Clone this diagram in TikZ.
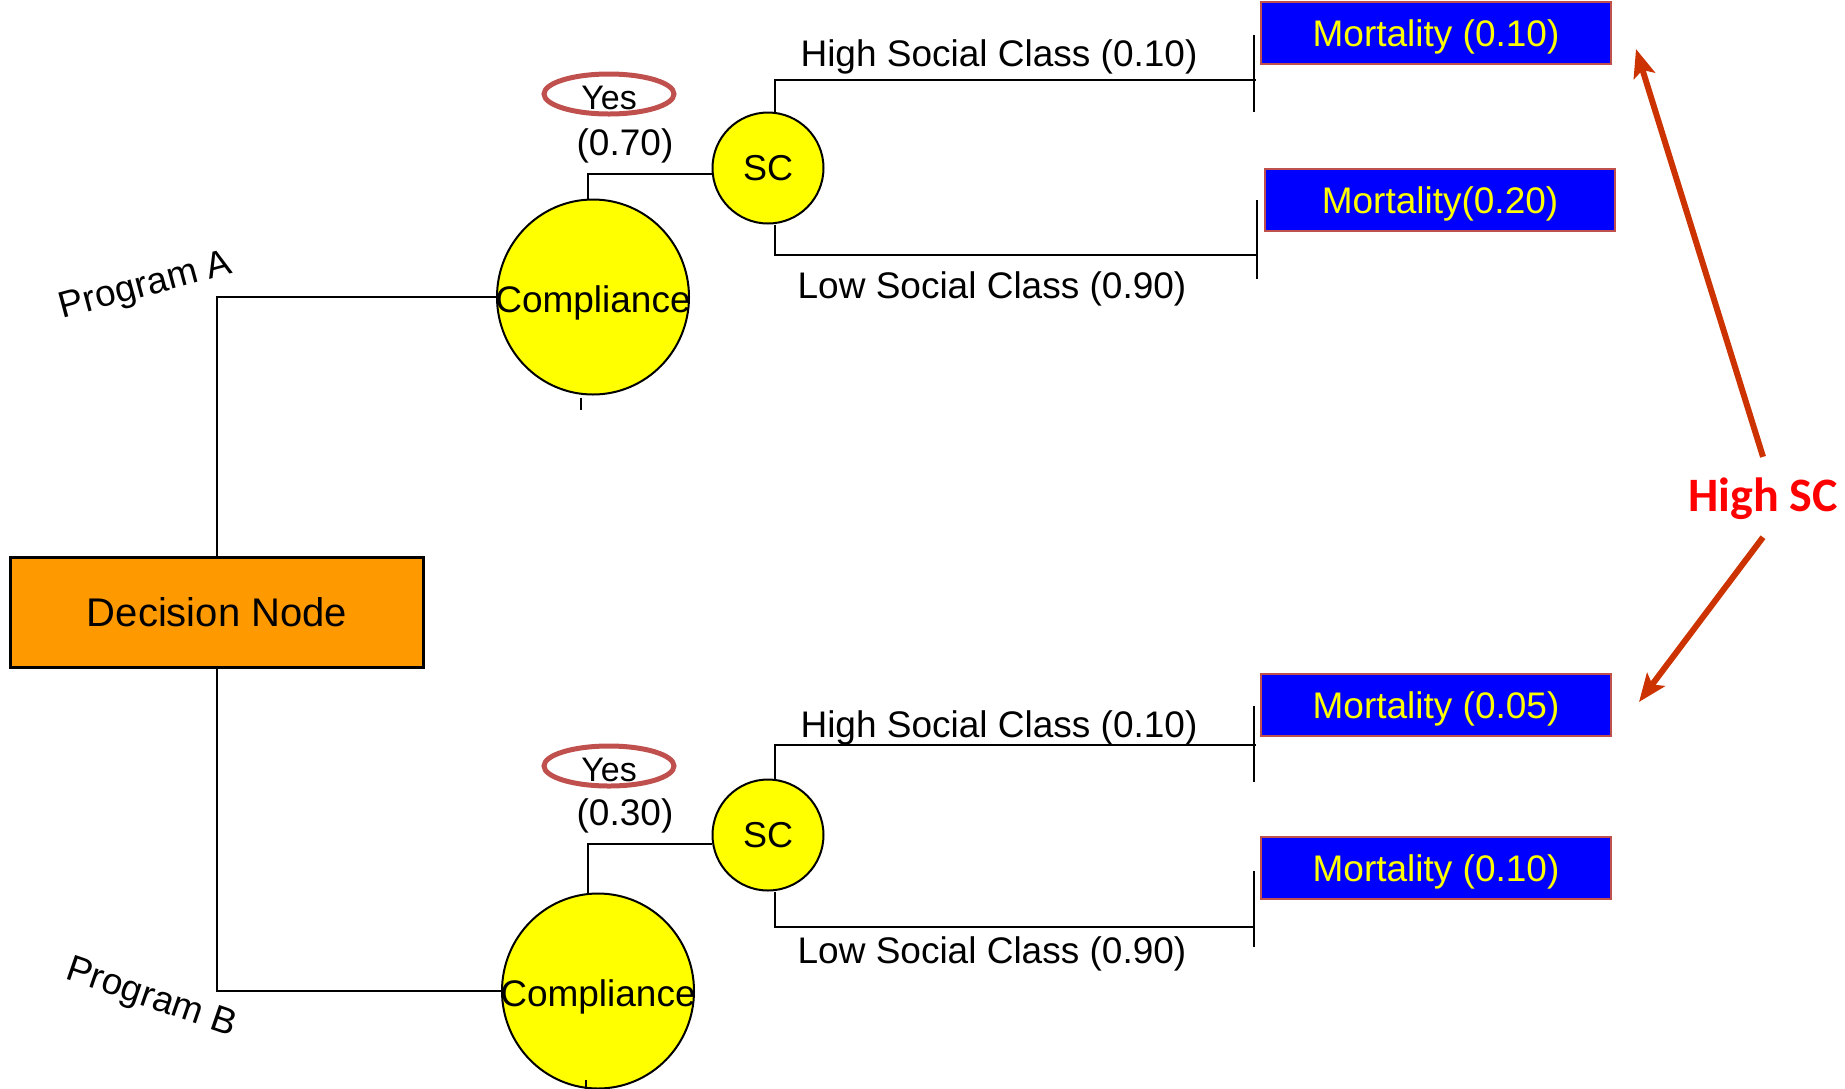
\documentclass[tikz,border=0pt]{standalone}
\usepackage{fontspec}
\setmainfont{Liberation Sans}
\newfontfamily\calibfont{Carlito}
\usetikzlibrary{shapes.geometric,arrows.meta}
\definecolor{decorange}{HTML}{FF9900}
\definecolor{chanceyellow}{HTML}{FFFF00}
\definecolor{outblue}{HTML}{0000FF}
\definecolor{rimred}{HTML}{C0504D}
\definecolor{arrowred}{HTML}{CC3300}
\newcommand\fsz[1]{\fontsize{#1}{#1}\selectfont}

\begin{document}
\begin{tikzpicture}[x=1pt,y=-1pt,
  branch/.style={line width=2pt, black},
  decbox/.style={draw, line width=3pt, fill=decorange, minimum width=413pt,
    minimum height=110pt, inner sep=0pt, font=\fsz{40}},
  chancebig/.style={draw, line width=2pt, fill=chanceyellow, ellipse,
    minimum width=192pt, minimum height=195pt, inner sep=0pt},
  chancesmall/.style={draw, line width=2pt, fill=chanceyellow, circle,
    minimum size=111pt, inner sep=0pt, font=\fsz{36}},
  yesring/.style={draw=rimred, line width=5pt, ellipse, minimum width=130pt,
    minimum height=40pt, inner sep=0pt},
  outcome/.style={draw=rimred, line width=2.5pt, fill=outblue, text=chanceyellow,
    minimum width=350pt, minimum height=62pt, inner sep=0pt, font=\fsz{37},
    text height=27pt, text depth=0pt},
  lbl/.style={font=\fsz{37}, inner sep=0pt},
  inlbl/.style={font=\fsz{37}, yshift=-6pt},
  yeslbl/.style={font=\fsz{34}, yshift=-4pt},
  hiarrow/.style={draw=arrowred, line width=6pt,
    -{Stealth[length=28pt,width=22pt,inset=6pt]}}
]
\useasboundingbox (0,0) rectangle (1845,1088);

% decision node
\node[decbox] (dec) at (217,612) {Decision Node};

% program labels
\node[lbl, rotate=15] (progA) at (146,287) {Program A};
\node[lbl, rotate=-19] (progB) at (151,999) {Program B};

% compliance chance nodes
\node[chancebig, label={[inlbl]center:Compliance}] (compA) at (593,297) {};
\node[chancebig, label={[inlbl]center:Compliance}] (compB) at (598,991) {};

% social class chance nodes
\node[chancesmall] (scA) at (768,168) {SC};
\node[chancesmall] (scB) at (768,835) {SC};

% "Yes" rings and probabilities
\node[yesring, label={[yeslbl]center:Yes}] (yesA) at (609,94) {};
\node[yesring, label={[yeslbl]center:Yes}] (yesB) at (609,766) {};
\node[lbl] (pA) at (625,146) {(0.70)};
\node[lbl] (pB) at (625,816) {(0.30)};

% branch labels
\node[lbl] (hiA) at (999,57) {High Social Class (0.10)};
\node[lbl] (loA) at (992,289) {Low Social Class (0.90)};
\node[lbl] (hiB) at (999,728) {High Social Class (0.10)};
\node[lbl] (loB) at (992,954) {Low Social Class (0.90)};

% outcome boxes
\node[outcome] (mA1) at (1436,33) {Mortality (0.10)};
\node[outcome] (mA2) at (1440,200) {Mortality(0.20)};
\node[outcome] (mB1) at (1436,705) {Mortality (0.05)};
\node[outcome] (mB2) at (1436,868) {Mortality (0.10)};

% branch end points and terminal ticks
\coordinate (endA1) at (1256,80);
\coordinate (endA2) at (1256,255);
\coordinate (endB1) at (1256,745);
\coordinate (endB2) at (1254,927);
\coordinate (tkA1t) at (1254,35);  \coordinate (tkA1b) at (1254,112);
\coordinate (tkA2t) at (1257,200); \coordinate (tkA2b) at (1257,279);
\coordinate (tkB1t) at (1254,706); \coordinate (tkB1b) at (1254,782);
\coordinate (tkB2t) at (1254,871); \coordinate (tkB2b) at (1254,947);

% tree connectors
\draw[branch] (dec.north) |- (compA.west);
\draw[branch] (dec.south) |- (compB.west);
\draw[branch] ([xshift=-5pt]compA.north) |- ([yshift=-6pt]scA.west);
\draw[branch] ([xshift=-10pt]compB.north) |- ([yshift=-9pt]scB.west);
\draw[branch] ([xshift=7pt]scA.north) |- (endA1);
\draw[branch] ([xshift=7pt]scA.south) |- (endA2);
\draw[branch] ([xshift=7pt]scB.north) |- (endB1);
\draw[branch] ([xshift=7pt]scB.south) |- (endB2);
\draw[branch] (tkA1t) -- (tkA1b);
\draw[branch] (tkA2t) -- (tkA2b);
\draw[branch] (tkB1t) -- (tkB1b);
\draw[branch] (tkB2t) -- (tkB2b);
\draw[branch] ([xshift=-12pt,yshift=-2pt]compA.south) -- ++(0,12);
\draw[branch] ([xshift=-12pt,yshift=10pt]compB.south) -- ++(0,14);

% highlight callout
\node[font=\calibfont\bfseries\fsz{48}, text=red, minimum height=80pt,
  inner sep=0pt] (hsc) at (1763,499) {High SC};
\coordinate (tipA) at (1636,49);
\coordinate (tipB) at (1639,702);
\draw[hiarrow] ([yshift=2pt]hsc.north) -- (tipA);
\draw[hiarrow] ([yshift=2pt]hsc.south) -- (tipB);
\end{tikzpicture}
\end{document}
